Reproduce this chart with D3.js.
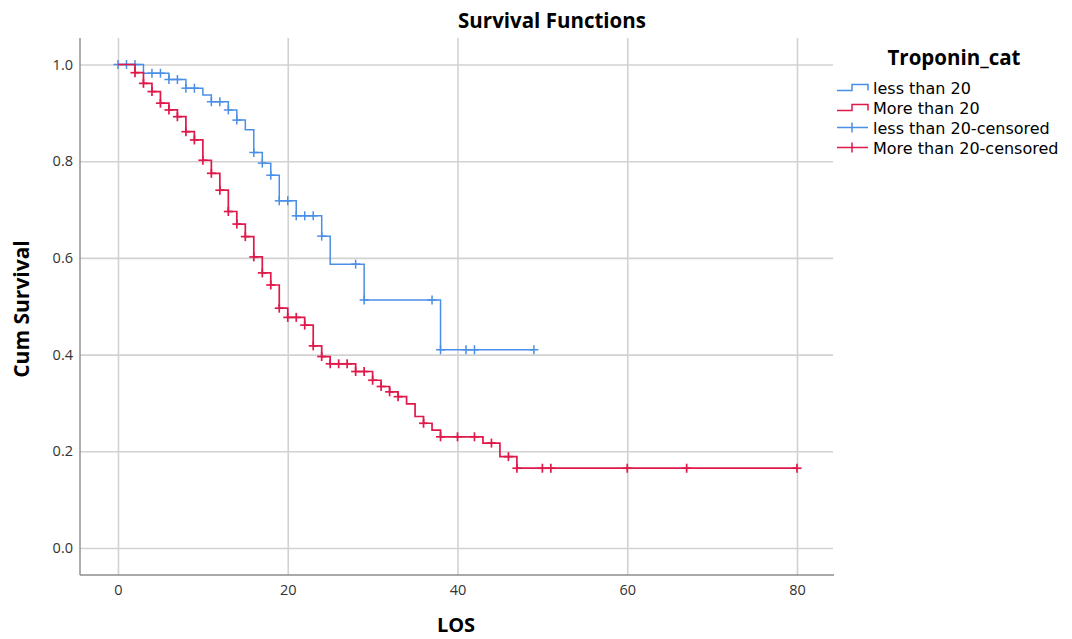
<!DOCTYPE html>
<html>
<head>
<meta charset="utf-8">
<script src="https://cdn.jsdelivr.net/npm/d3@7"></script>
<style>
  body { margin: 0; background: #fff; }
  svg { font-family: "Open Sans", "DejaVu Sans", sans-serif; }
</style>
</head>
<body>
<div id="chart"></div>
<script>
// Kaplan-Meier estimates
var lessTimes = [3, 6, 8, 10, 11, 13, 14, 15, 16, 17, 18, 19, 21, 24, 25, 29, 38];
var lessSurv  = [0.982, 0.969, 0.951, 0.937, 0.923, 0.906, 0.885, 0.865, 0.818, 0.796, 0.771, 0.718, 0.687, 0.645, 0.587, 0.513, 0.41];
var lessCensored = [0, 1, 2, 4, 5, 6, 7, 8, 9, 11, 12, 13, 14, 16, 17, 18, 19, 20, 21, 22, 23, 24, 28, 29, 37, 38, 41, 42, 49];
var lessEnd = 49;

var moreTimes = [2, 3, 4, 5, 6, 7, 8, 9, 10, 11, 12, 13, 14, 15, 16, 17, 18, 19, 20, 22, 23, 24, 25, 28, 30, 31, 32, 33, 34, 35, 36, 37, 38, 43, 45, 47];
var moreSurv  = [0.983, 0.961, 0.944, 0.92, 0.906, 0.892, 0.861, 0.844, 0.802, 0.775, 0.74, 0.696, 0.67, 0.644, 0.602, 0.569, 0.544, 0.496, 0.477, 0.461, 0.418, 0.396, 0.381, 0.365, 0.347, 0.334, 0.323, 0.313, 0.298, 0.272, 0.258, 0.244, 0.23, 0.217, 0.189, 0.165];
var moreCensored = [2, 3, 4, 5, 6, 7, 8, 9, 10, 11, 12, 13, 14, 15, 16, 17, 18, 19, 20, 21, 22, 23, 24, 25, 26, 27, 28, 29, 30, 31, 32, 33, 36, 38, 40, 42, 44, 46, 47, 50, 51, 60, 67, 80];
var moreEnd = 80;

var xTicks = [0, 20, 40, 60, 80];
var yTicks = [0.0, 0.2, 0.4, 0.6, 0.8, 1.0];

var legendLabels = ["less than 20", "More than 20", "less than 20-censored", "More than 20-censored"];
var blue = "#4a8fe7", red = "#e0194b";

var W = 1072, H = 639;
var plot = {left: 80, right: 834, top: 38, bottom: 575};

var x = d3.scaleLinear().domain([0, 80]).range([118, 797]);
var y = d3.scaleLinear().domain([0, 1]).range([548, 64.5]);

var svg = d3.select("#chart").append("svg")
    .attr("width", W)
    .attr("height", H);

// grid via axes
var yAxis = d3.axisLeft(y).tickValues(yTicks).tickFormat(d3.format(".1f"))
    .tickSize(-(plot.right - plot.left - 1)).tickPadding(7);
var xAxis = d3.axisBottom(x).tickValues(xTicks).tickFormat(d3.format("d"))
    .tickSize(-(plot.bottom - plot.top)).tickPadding(10);

var gy = svg.append("g").attr("transform", "translate(" + plot.left + ",0)").call(yAxis);
var gx = svg.append("g").attr("transform", "translate(0," + plot.bottom + ")").call(xAxis);

[gy, gx].forEach(function(g) {
  g.attr("font-size", null).attr("font-family", null);
  g.select(".domain").remove();
  g.selectAll(".tick line").attr("stroke", "#d2d2d2").attr("stroke-width", 1.6);
  g.selectAll(".tick text").attr("fill", "#333").style("font-size", "14.5px");
});

// axis lines
svg.append("line").attr("x1", plot.left).attr("x2", plot.left).attr("y1", plot.top).attr("y2", plot.bottom)
  .attr("stroke", "#8c8c8c").attr("stroke-width", 1.4);
svg.append("line").attr("x1", plot.left).attr("x2", plot.right).attr("y1", plot.bottom).attr("y2", plot.bottom)
  .attr("stroke", "#8c8c8c").attr("stroke-width", 1.4);

function stepPoints(times, surv, end) {
  var pts = [[0, 1]];
  times.forEach(function(t, i) { pts.push([t, surv[i]]); });
  pts.push([end, surv[surv.length - 1]]);
  return pts;
}

function survAt(times, surv, t) {
  var s = 1;
  for (var i = 0; i < times.length; i++) {
    if (times[i] <= t) s = surv[i];
  }
  return s;
}

var stepLine = d3.line()
  .x(function(d) { return x(d[0]); })
  .y(function(d) { return y(d[1]); })
  .curve(d3.curveStepAfter);

var series = [
  {times: lessTimes, surv: lessSurv, cens: lessCensored, end: lessEnd, color: blue, w: 1.5},
  {times: moreTimes, surv: moreSurv, cens: moreCensored, end: moreEnd, color: red, w: 1.7}
];

var cs = 4.5; // half size of censor cross
series.forEach(function(s) {
  svg.append("path")
    .datum(stepPoints(s.times, s.surv, s.end))
    .attr("d", stepLine)
    .attr("fill", "none")
    .attr("stroke", s.color)
    .attr("stroke-width", s.w);

  var g = svg.append("g").attr("stroke", s.color).attr("stroke-width", s.w);
  s.cens.forEach(function(t) {
    var cx = x(t), cy = y(survAt(s.times, s.surv, t));
    g.append("line").attr("x1", cx - cs).attr("x2", cx + cs).attr("y1", cy).attr("y2", cy);
    g.append("line").attr("x1", cx).attr("x2", cx).attr("y1", cy - cs).attr("y2", cy + cs);
  });
});

// titles
svg.append("text").attr("x", 552).attr("y", 28).attr("text-anchor", "middle")
  .style("font-size", "20.5px").style("font-weight", "bold").text("Survival Functions");
svg.append("text").attr("x", 456).attr("y", 632).attr("text-anchor", "middle")
  .style("font-size", "20px").style("font-weight", "bold").text("LOS");
svg.append("text").attr("transform", "translate(29,309) rotate(-90)").attr("text-anchor", "middle")
  .style("font-size", "21px").style("font-weight", "bold").text("Cum Survival");

// legend
var leg = svg.append("g");
leg.append("text").attr("x", 954).attr("y", 65).attr("text-anchor", "middle")
  .style("font-size", "20.5px").style("font-weight", "bold").text("Troponin_cat");

var legColors = [blue, red, blue, red];
legendLabels.forEach(function(lab, i) {
  var cy = 87.5 + i * 20;
  if (i < 2) {
    leg.append("path")
      .attr("d", "M837," + (cy + 3) + "H852V" + (cy - 3) + "H868V" + (cy + 3))
      .attr("fill", "none").attr("stroke", legColors[i]).attr("stroke-width", 1.5);
  } else {
    leg.append("path")
      .attr("d", "M837," + cy + "H868M852," + (cy - 5) + "V" + (cy + 5))
      .attr("fill", "none").attr("stroke", legColors[i]).attr("stroke-width", 1.5);
  }
  leg.append("text").attr("x", 873).attr("y", cy + 6)
    .style("font-family", "'DejaVu Sans', sans-serif")
    .style("font-size", "16px").text(lab);
});
</script>
</body>
</html>
